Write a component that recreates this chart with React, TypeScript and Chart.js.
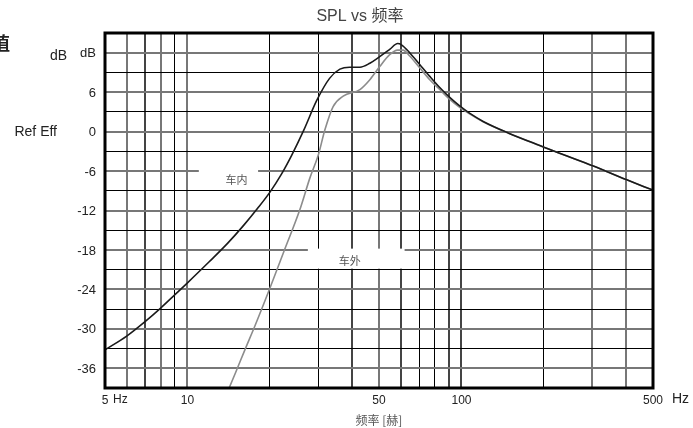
import React, { useEffect, useRef } from 'react';
import { Chart, registerables } from 'chart.js';

Chart.register(...registerables);

// ---- data ----
const TITLE = 'SPL vs 频率';
const X_TITLE = '频率 [赫]';
const SERIES_NAMES = ['车内', '车外'];

const FREQ_IN = [5, 6, 7, 8, 9, 10, 12, 14, 16, 18, 20, 22, 24, 26.5, 29.6, 33, 36, 39, 42.6, 46.3, 50.3, 54.7, 58.5, 60.4, 64.7, 70.4, 76.6, 83.3, 90.6, 98.5, 107, 120, 148, 201, 228, 301, 399, 500];
const SPL_IN = [-33.2, -31.1, -28.9, -26.8, -24.8, -23.0, -19.8, -17.0, -14.3, -11.7, -9.2, -6.5, -3.6, 0.1, 4.7, 8.1, 9.5, 9.8, 9.8, 10.4, 11.4, 12.5, 13.4, 13.2, 12.0, 10.2, 8.4, 6.7, 5.2, 3.9, 2.8, 1.55, -0.2, -2.4, -3.3, -5.2, -7.3, -8.9];

const FREQ_OUT = [13.8, 15, 16.2, 17.65, 20, 22.5, 25.7, 28, 30, 31.7, 34, 37, 42.6, 46.3, 50.3, 54.7, 58.4, 61.2, 64.7, 70.4, 76.6, 83.3, 90.6, 98.5, 107, 120, 148, 201, 228, 301, 399, 500];
const SPL_OUT = [-40.2, -36.6, -33.2, -29.5, -23.8, -18.2, -11.9, -7.0, -3.6, 0.2, 3.8, 5.4, 6.4, 7.9, 9.9, 11.7, 12.4, 12.4, 11.5, 9.7, 7.9, 6.4, 4.9, 3.7, 2.7, 1.5, -0.2, -2.4, -3.3, -5.2, -7.3, -8.9];

const X_MIN = 5;
const X_MAX = 500;
const X_TICKS = [5, 6, 7, 8, 9, 10, 20, 30, 40, 50, 60, 70, 80, 90, 100, 200, 300, 400, 500];
const X_TICK_LABELS: Record<number, string> = { 5: '5', 10: '10', 50: '50', 100: '100', 500: '500' };

const Y_MIN = -39;
const Y_MAX = 15;
const Y_STEP = 3;
const Y_TICK_LABELS: Record<number, string> = {
  12: 'dB', 6: '6', 0: '0', [-6]: '-6', [-12]: '-12', [-18]: '-18', [-24]: '-24', [-30]: '-30', [-36]: '-36',
};

// ---- styles ----
const FONT = "'Liberation Sans', Arial, 'Noto Sans CJK SC', sans-serif";
const CJK_FONT = "'Noto Sans CJK SC', 'Liberation Sans', sans-serif";

const X_GRID_STYLE: Record<number, 'black' | 'dark' | 'gray'> = {
  6: 'gray', 7: 'dark', 8: 'gray', 9: 'black', 10: 'gray',
  20: 'black', 30: 'black', 40: 'dark', 50: 'gray', 60: 'dark', 70: 'black', 80: 'black', 90: 'dark', 100: 'dark',
  200: 'black', 300: 'gray', 400: 'gray',
};
const GRID_COLORS = { black: '#000000', dark: '#444444', gray: '#777777' };
const GRID_WIDTHS = { black: 1, dark: 2, gray: 2 };

const xStyle = (v: number) => X_GRID_STYLE[v] || 'black';
const yStyle = (v: number) => (Math.abs(v) % 6 === 0 ? 'gray' : 'black');

const decorPlugin = {
  id: 'decor',
  beforeDatasetsDraw(chart: any) {
    const { ctx, scales } = chart;
    const x = scales.x;
    const y = scales.y;
    const boxes = [
      { text: SERIES_NAMES[0], x0: 11.0, x1: 18.1, y0: -5.75, y1: -8.85, tx: 15.1, ty: -7.3 },
      { text: SERIES_NAMES[1], x0: 27.5, x1: 62, y0: -17.8, y1: -20.85, tx: 39.1, ty: -19.6 },
    ];
    ctx.save();
    for (const b of boxes) {
      const l = x.getPixelForValue(b.x0);
      const r = x.getPixelForValue(b.x1);
      const t = y.getPixelForValue(b.y0);
      const bt = y.getPixelForValue(b.y1);
      ctx.fillStyle = '#ffffff';
      ctx.fillRect(l, t, r - l, bt - t);
      ctx.fillStyle = '#555555';
      ctx.font = `11px ${CJK_FONT}`;
      ctx.textAlign = 'center';
      ctx.textBaseline = 'middle';
      ctx.fillText(b.text, x.getPixelForValue(b.tx), y.getPixelForValue(b.ty));
    }
    ctx.restore();
  },
  afterDatasetsDraw(chart: any) {
    const { ctx, chartArea } = chart;
    ctx.save();
    ctx.strokeStyle = '#000000';
    ctx.lineWidth = 3;
    ctx.strokeRect(chartArea.left, chartArea.top, chartArea.right - chartArea.left, chartArea.bottom - chartArea.top);
    ctx.restore();
  },
  afterDraw(chart: any) {
    const { ctx, chartArea, scales } = chart;
    const x = scales.x;
    const y = scales.y;
    ctx.save();
    ctx.fillStyle = '#222222';
    ctx.textBaseline = 'middle';
    ctx.textAlign = 'left';
    ctx.font = `12px ${FONT}`;
    ctx.fillText('Hz', x.getPixelForValue(X_MIN) + 8, 400);
    ctx.font = `14px ${FONT}`;
    ctx.fillText('Hz', chartArea.right + 19, 399);
    ctx.textAlign = 'right';
    ctx.font = `14px ${FONT}`;
    ctx.fillText('dB', 67, y.getPixelForValue(12) + 3);
    ctx.fillText('Ref Eff', 57, y.getPixelForValue(0) + 1);
    ctx.textAlign = 'left';
    ctx.font = `bold 18px ${CJK_FONT}`;
    ctx.fillText('值', -8, 43);
    ctx.restore();
  },
};

export default function App() {
  const ref = useRef<HTMLCanvasElement>(null);

  useEffect(() => {
    const canvas = ref.current;
    if (!canvas) return;
    const chart = new Chart(canvas, {
      type: 'line',
      data: {
        datasets: [
          {
            label: SERIES_NAMES[0],
            data: FREQ_IN.map((f, i) => ({ x: f, y: SPL_IN[i] })),
            borderColor: '#1a1a1a',
            borderWidth: 1.6,
            pointRadius: 0,
            cubicInterpolationMode: 'monotone',
            fill: false,
          },
          {
            label: SERIES_NAMES[1],
            data: FREQ_OUT.map((f, i) => ({ x: f, y: SPL_OUT[i] })),
            borderColor: '#8c8c8c',
            borderWidth: 1.6,
            pointRadius: 0,
            cubicInterpolationMode: 'monotone',
            fill: false,
          },
        ],
      },
      options: {
        animation: false,
        responsive: false,
        devicePixelRatio: 1,
        events: [],
        layout: { padding: { left: 67, right: 40, top: 0, bottom: 0 } },
        plugins: {
          legend: { display: false },
          tooltip: { enabled: false },
          title: {
            display: true,
            text: TITLE,
            color: '#444444',
            font: { size: 16, family: FONT, weight: 'normal', lineHeight: 1.25 },
            padding: { top: 7, bottom: 6 },
          },
        },
        scales: {
          x: {
            type: 'logarithmic',
            min: X_MIN,
            max: X_MAX,
            afterBuildTicks: (scale: any) => {
              scale.ticks = X_TICKS.map((v) => ({ value: v }));
            },
            afterFit: (scale: any) => {
              scale.height = 40;
            },
            border: { display: false },
            grid: {
              drawTicks: false,
              color: (c: any) => GRID_COLORS[xStyle(c.tick?.value)],
              lineWidth: (c: any) => GRID_WIDTHS[xStyle(c.tick?.value)],
            },
            ticks: {
              autoSkip: false,
              maxRotation: 0,
              padding: 5,
              color: '#222222',
              font: { size: 12, family: FONT },
              callback: (v: any) => X_TICK_LABELS[Number(v)] ?? '',
            },
            title: {
              display: true,
              text: X_TITLE,
              color: '#555555',
              font: { size: 12, family: CJK_FONT },
              padding: { top: 0, bottom: 0 },
            },
          },
          y: {
            type: 'linear',
            min: Y_MIN,
            max: Y_MAX,
            afterFit: (scale: any) => {
              scale.width = 38;
            },
            border: { display: false },
            grid: {
              drawTicks: false,
              color: (c: any) => GRID_COLORS[yStyle(c.tick?.value)],
              lineWidth: (c: any) => GRID_WIDTHS[yStyle(c.tick?.value)],
            },
            ticks: {
              stepSize: Y_STEP,
              padding: 9,
              labelOffset: 1,
              color: '#222222',
              font: { size: 13, family: FONT },
              callback: (v: any) => Y_TICK_LABELS[Number(v)] ?? '',
            },
          },
        },
      },
      plugins: [decorPlugin],
    } as any);
    return () => chart.destroy();
  }, []);

  return (
    <div style={{ position: 'absolute', left: 0, top: 0, width: 693, height: 428, background: '#ffffff' }}>
      <canvas ref={ref} width={693} height={428} style={{ display: 'block' }} />
    </div>
  );
}
